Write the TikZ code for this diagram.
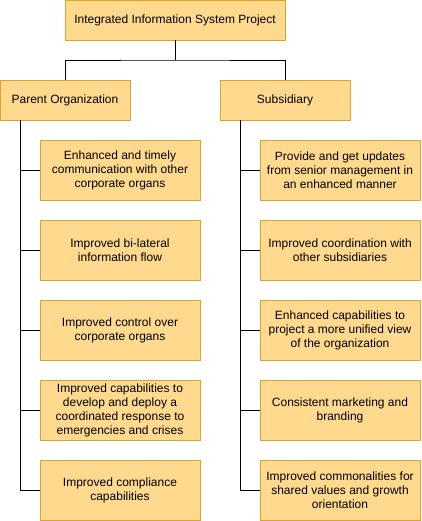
\documentclass[tikz,border=0pt]{standalone}
\usepackage{fontspec}
\setmainfont{Liberation Sans}
\definecolor{boxfill}{HTML}{FFD98E}
\definecolor{boxdraw}{HTML}{D9A52C}
\begin{document}
\begin{tikzpicture}[x=1pt,y=-1pt,
  box/.style={draw=boxdraw,fill=boxfill,line width=0.9pt,rectangle,inner sep=0pt,
    font=\fontsize{12}{14}\selectfont,align=center},
  conn/.style={draw=black,line width=0.9pt}]
\useasboundingbox (0,0) rectangle (421,521);
\node[box,minimum width=220pt,minimum height=40pt] (top) at (175,20) {Integrated Information System Project};
\node[box,minimum width=130pt,minimum height=40pt] (par) at (65,100) {Parent Organization};
\node[box,minimum width=130pt,minimum height=40pt] (sub) at (285,100) {Subsidiary};
\foreach \n/\y/\t in {
 l1/170/{Enhanced and timely\\communication with other\\corporate organs},
 l2/250/{Improved bi-lateral\\information flow},
 l3/330/{Improved control over\\corporate organs},
 l4/410/{Improved capabilities to\\develop and deploy a\\coordinated response to\\emergencies and crises},
 l5/490/{Improved compliance\\capabilities}}{
 \node[box,minimum width=160pt,minimum height=60pt] (\n) at (120,\y) {\t};
 \draw[conn] (par.south -| 20,0) |- (\n.west);
}
\foreach \n/\y/\t in {
 r1/170/{Provide and get updates\\from senior management in\\an enhanced manner},
 r2/250/{Improved coordination with\\other subsidiaries},
 r3/330/{Enhanced capabilities to\\project a more unified view\\of the organization},
 r4/410/{Consistent marketing and\\branding},
 r5/490/{Improved commonalities for\\shared values and growth\\orientation}}{
 \node[box,minimum width=160pt,minimum height=60pt] (\n) at (340,\y) {\t};
 \draw[conn] (sub.south -| 240,0) |- (\n.west);
}
\coordinate (mid) at (175,60);
\draw[conn] (top.south) -- (mid);
\draw[conn] (par.north) |- (mid) -| (sub.north);
\end{tikzpicture}
\end{document}
